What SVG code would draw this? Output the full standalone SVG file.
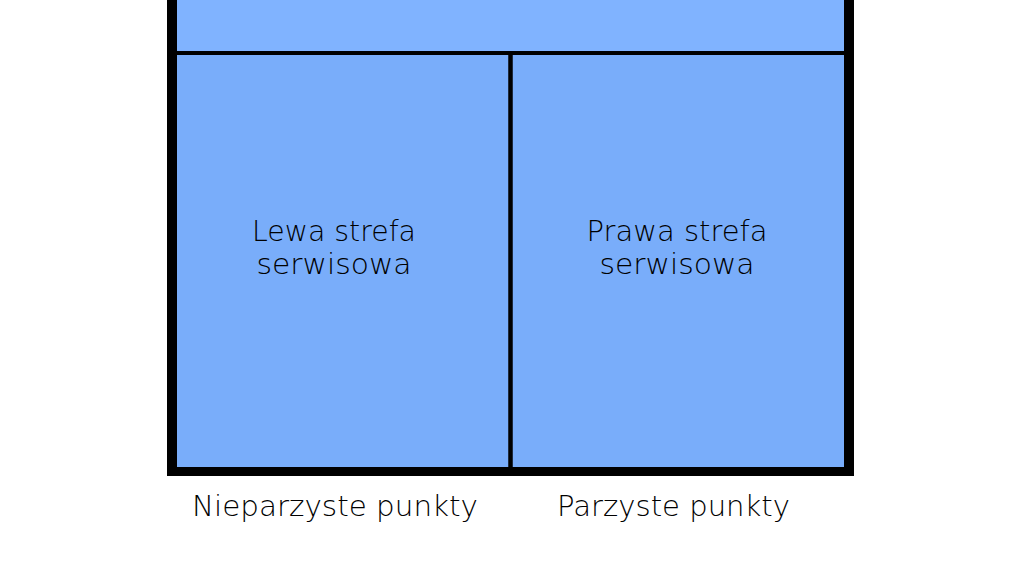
<svg xmlns="http://www.w3.org/2000/svg" width="1024" height="576" viewBox="0 0 1024 576">
<style>
.lbl{font-family:"DejaVu Sans","Liberation Sans",sans-serif;font-weight:200;font-size:29px;fill:#000;text-anchor:middle}
.ln{stroke:#000;stroke-width:4;fill:none}
</style>
<rect x="0" y="0" width="1024" height="576" fill="#ffffff"/>
<g id="frame">
<rect x="167" y="-20" width="687" height="496" fill="#000"/>
</g>
<g id="top-zone">
<rect x="177" y="-10" width="667" height="61" fill="#80b3ff"/>
</g>
<g id="left-zone">
<rect x="177" y="55" width="331.5" height="412" fill="#79adfa"/>
<text class="lbl" x="334" y="241" textLength="164" lengthAdjust="spacingAndGlyphs">Lewa strefa</text>
<text class="lbl" x="334" y="274" textLength="155" lengthAdjust="spacingAndGlyphs">serwisowa</text>
</g>
<g id="right-zone">
<rect x="512.5" y="55" width="331.5" height="412" fill="#79adfa"/>
<text class="lbl" x="677" y="241" textLength="181" lengthAdjust="spacingAndGlyphs">Prawa strefa</text>
<text class="lbl" x="677" y="274" textLength="155" lengthAdjust="spacingAndGlyphs">serwisowa</text>
</g>
<g id="connectors">
<line class="ln" x1="177" y1="53" x2="844" y2="53"/>
<line class="ln" x1="510.5" y1="53" x2="510.5" y2="467"/>
</g>
<g id="labels">
<text class="lbl" x="335" y="516" textLength="286" lengthAdjust="spacingAndGlyphs">Nieparzyste punkty</text>
<text class="lbl" x="673.5" y="516" textLength="233" lengthAdjust="spacingAndGlyphs">Parzyste punkty</text>
</g>
</svg>
